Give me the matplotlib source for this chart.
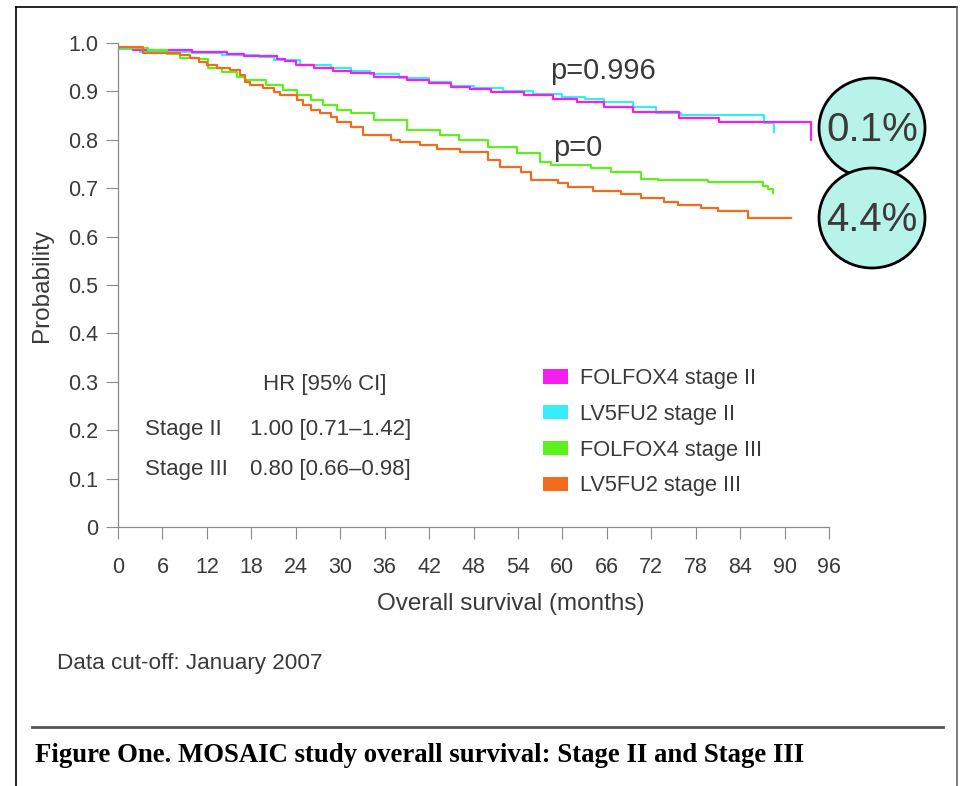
import matplotlib
matplotlib.use("Agg")
import matplotlib.pyplot as plt
from matplotlib.patches import Ellipse, Patch
from matplotlib.lines import Line2D

plt.rcParams['font.family'] = ['Liberation Sans', 'DejaVu Sans']

# Kaplan-Meier steps (months, probability)
f2_t = [0, 2, 10, 14.7, 17, 21.5, 22.5, 24, 26.4, 29, 31.4, 34.5, 39, 42, 44.9, 47.5, 50.3,
        54.8, 58.8, 62, 65.6, 69.6, 75.7, 81.1, 93.6]
f2_s = [0.99, 0.986, 0.982, 0.977, 0.973, 0.967, 0.962, 0.955, 0.948, 0.942, 0.938, 0.930,
        0.924, 0.917, 0.910, 0.905, 0.899, 0.893, 0.884, 0.879, 0.868, 0.858, 0.845, 0.837, 0.80]

l2_t = [0, 3, 10, 14, 19, 21, 24.6, 28.7, 31.4, 34, 38, 42, 45, 48, 52, 56, 60, 63, 65.6,
        69.6, 72.6, 76, 87.2, 88.6]
l2_s = [0.988, 0.981, 0.980, 0.976, 0.972, 0.965, 0.955, 0.948, 0.943, 0.935, 0.928, 0.92,
        0.912, 0.906, 0.90, 0.895, 0.888, 0.884, 0.878, 0.868, 0.855, 0.851, 0.835, 0.817]

f3_t = [0, 4, 6.6, 8.4, 11, 12.2, 14, 16, 17.2, 20, 22.3, 24.2, 26, 27.7, 29.6, 31.4, 34.5,
        39, 43.5, 46, 49.9, 53.9, 57, 58.4, 63.8, 66.5, 70.6, 72.9, 79.6, 87.1, 87.8, 88.4]
f3_s = [0.99, 0.985, 0.977, 0.968, 0.966, 0.948, 0.941, 0.93, 0.924, 0.913, 0.903, 0.893,
        0.882, 0.872, 0.862, 0.855, 0.841, 0.82, 0.81, 0.80, 0.786, 0.772, 0.755, 0.748,
        0.741, 0.734, 0.72, 0.717, 0.713, 0.705, 0.698, 0.69]

l3_t = [0, 3.4, 8.4, 9.7, 11, 12, 13.4, 15.1, 16.5, 17.2, 17.8, 19.6, 21, 21.9, 24.2, 25, 26,
        27.3, 28.7, 29.6, 31.4, 33.1, 36.8, 38.1, 40.8, 43.1, 46.2, 49.9, 51.6, 54.4, 55.7,
        59.4, 60.7, 64.2, 67.9, 70.6, 73.7, 75.6, 78.7, 81, 85, 90.9]
l3_s = [0.992, 0.98, 0.975, 0.968, 0.961, 0.955, 0.948, 0.944, 0.934, 0.92, 0.913, 0.906,
        0.899, 0.893, 0.882, 0.872, 0.862, 0.855, 0.848, 0.837, 0.827, 0.81, 0.80, 0.796,
        0.789, 0.782, 0.775, 0.758, 0.744, 0.734, 0.717, 0.710, 0.703, 0.694, 0.688, 0.68,
        0.672, 0.666, 0.66, 0.653, 0.639, 0.638]

labels = ["FOLFOX4 stage II", "LV5FU2 stage II", "FOLFOX4 stage III", "LV5FU2 stage III"]
colors = ["#f41ef0", "#38ecfa", "#5cf01c", "#f26c1e"]

x_ticks = list(range(0, 97, 6))
y_ticks = [0, 0.1, 0.2, 0.3, 0.4, 0.5, 0.6, 0.7, 0.8, 0.9, 1.0]
y_labels = ["0", "0.1", "0.2", "0.3", "0.4", "0.5", "0.6", "0.7", "0.8", "0.9", "1.0"]

hr_rows = ["Stage II", "Stage III"]
hr_vals = ["1.00 [0.71\u20131.42]", "0.80 [0.66\u20130.98]"]
diffs = ["0.1%", "4.4%"]

txt = "#3a3a3a"
W, H = 961, 786
fig = plt.figure(figsize=(9.61, 7.86), dpi=100)
fig.patch.set_facecolor("white")
ax = fig.add_axes([118 / W, 1 - 527 / H, 711 / W, 484 / H])

ax.step(l2_t, l2_s, where="post", color=colors[1], lw=1.6)
ax.step(f2_t, f2_s, where="post", color=colors[0], lw=1.6)
ax.step(f3_t, f3_s, where="post", color=colors[2], lw=1.6)
ax.step(l3_t, l3_s, where="post", color=colors[3], lw=1.6)

ax.set_xlim(0, 96)
ax.set_ylim(0, 1.0)
ax.set_xticks(x_ticks)
ax.set_yticks(y_ticks)
ax.set_yticklabels(y_labels)
for s in ["top", "right"]:
    ax.spines[s].set_visible(False)
for s in ["left", "bottom"]:
    ax.spines[s].set_color("#8a8a8a")
    ax.spines[s].set_linewidth(0.9)
ax.tick_params(axis="x", direction="out", length=8.6, width=0.8, color="#8a8a8a",
               labelsize=15.5, labelcolor=txt, pad=13)
ax.tick_params(axis="y", direction="out", length=9, width=0.8, color="#8a8a8a",
               labelsize=15.5, labelcolor=txt, pad=5)
ax.set_xlabel("Overall survival (months)", fontsize=17.5, color=txt, labelpad=11)
ax.xaxis.label.set_x(0.553)
ax.set_ylabel("Probability", fontsize=17.5, color=txt, labelpad=11)

ax.text(58.4, 0.942, "p=0.996", fontsize=21, color=txt, va="center", ha="left")
ax.text(58.8, 0.783, "p=0", fontsize=21, color=txt, va="center", ha="left")

# hazard ratio table
ax.text(27.9, 0.294, "HR [95% CI]", fontsize=16, color=txt, va="center", ha="center")
for i in range(2):
    yv = 0.202 - i * 0.083
    ax.text(3.6, yv, hr_rows[i], fontsize=16, color=txt, va="center", ha="left")
    ax.text(17.8, yv, hr_vals[i], fontsize=16, color=txt, va="center", ha="left")

handles = [Patch(facecolor=c, edgecolor="none") for c in colors]
ax.legend(handles, labels, loc="upper left", bbox_to_anchor=(543 / W, 1 - 368 / H),
          bbox_transform=fig.transFigure, frameon=False, fontsize=15.7, labelcolor=txt,
          handlelength=1.15, handleheight=0.64, handletextpad=0.55, labelspacing=0.68,
          borderpad=0, borderaxespad=0)

# percentage bubbles
for i, cy in enumerate([128, 218]):
    e = Ellipse((872 / W, 1 - cy / H), 106 / W, 100 / H, transform=fig.transFigure,
                facecolor="#b8f3ea", edgecolor="black", lw=2)
    fig.add_artist(e)
    fig.text(872 / W, 1 - (cy + 2) / H, diffs[i], fontsize=29, color=txt,
             ha="center", va="center")

fig.text(57 / W, 1 - 663 / H, "Data cut-off: January 2007", fontsize=16.2, color=txt,
         ha="left", va="center")

# frame and caption rule
fig.add_artist(Line2D([16 / W, 16 / W], [0, 1 - 7 / H], transform=fig.transFigure,
                      color="black", lw=1.2))
fig.add_artist(Line2D([16 / W, 957 / W], [1 - 7 / H, 1 - 7 / H], transform=fig.transFigure,
                      color="black", lw=1.2))
fig.add_artist(Line2D([957 / W, 957 / W], [0, 1 - 7 / H], transform=fig.transFigure,
                      color="#666666", lw=1.2))
fig.add_artist(Line2D([32 / W, 943 / W], [1 - 727 / H, 1 - 727 / H], transform=fig.transFigure,
                      color="#555555", lw=2))
fig.text(35 / W, 1 - 755 / H, "Figure One. MOSAIC study overall survival: Stage II and Stage III",
         fontsize=19.3, fontweight="bold", family=["Liberation Serif", "DejaVu Serif"],
         color="black", ha="left", va="center")

fig.savefig("out.png", dpi=100)
